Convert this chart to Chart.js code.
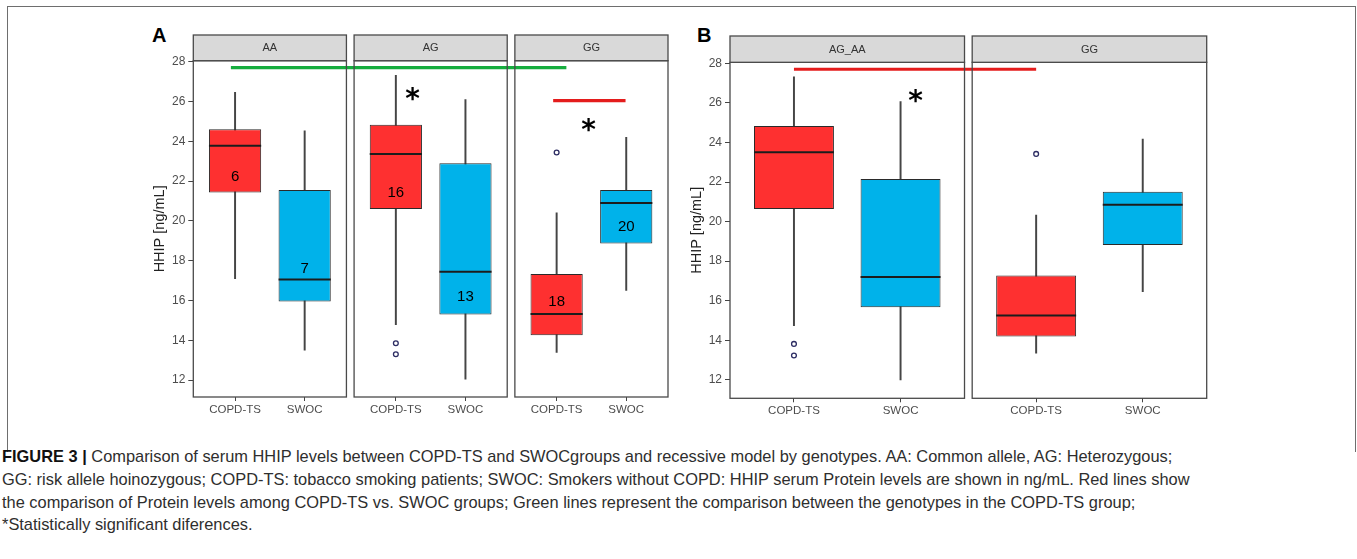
<!DOCTYPE html>
<html><head><meta charset="utf-8">
<script src="https://cdn.jsdelivr.net/npm/chart.js@4/dist/chart.umd.min.js"></script>
<style>
html,body{margin:0;padding:0;background:#fff;}
body{width:1357px;height:559px;overflow:hidden;position:relative;font-family:"Liberation Sans",Arial,sans-serif;}
#frame{position:absolute;left:7px;top:6px;width:1349px;height:446px;border:1.5px solid #6e6e6e;border-bottom:none;box-sizing:border-box;}
.cv{position:absolute;}
.letter{position:absolute;font-weight:bold;font-size:20px;line-height:20px;color:#000;}
.cap{position:absolute;left:2px;font-size:16.4px;line-height:22.7px;color:#2e2e2e;white-space:nowrap;}
.cap b{color:#111;}
</style></head>
<body>
<div id="frame"></div>
<div class="letter" style="left:152px;top:25px">A</div>
<div class="letter" style="left:697px;top:25px">B</div>
<canvas id="cA" class="cv" width="545" height="400" style="left:130px;top:28px"></canvas>
<canvas id="cB" class="cv" width="545" height="400" style="left:670px;top:28px"></canvas>
<div class="cap" style="top:445px"><b>FIGURE 3 |</b> Comparison of serum HHIP levels between COPD-TS and SWOCgroups and recessive model by genotypes. AA: Common allele, AG: Heterozygous;</div>
<div class="cap" style="top:468px">GG: risk allele hoinozygous; COPD-TS: tobacco smoking patients; SWOC: Smokers without COPD: HHIP serum Protein levels are shown in ng/mL. Red lines show</div>
<div class="cap" style="top:491px">the comparison of Protein levels among COPD-TS vs. SWOC groups; Green lines represent the comparison between the genotypes in the COPD-TS group;</div>
<div class="cap" style="top:513px">*Statistically significant diferences.</div>
<script>
// ---------- data ----------
const groups = ['COPD-TS', 'SWOC'];
const yTicks = [12, 14, 16, 18, 20, 22, 24, 26, 28];

// Panel A: facets AA, AG, GG; per facet COPD-TS then SWOC
const facetsA = ['AA', 'AG', 'GG'];
const aLower  = [17.10, 13.50, 14.78, 12.05, 13.39, 16.51];
const aQ1     = [21.43, 15.95, 20.60, 15.29, 14.25, 18.87];
const aMedian = [23.78, 17.05, 23.36, 17.45, 15.32, 20.90];
const aQ3     = [24.60, 21.55, 24.83, 22.90, 17.33, 21.55];
const aUpper  = [26.46, 24.52, 27.31, 26.10, 20.40, 24.20];
const aOutliers = [[], [], [13.85, 13.30], [], [23.44], []];
const aCounts = ['6', '7', '16', '13', '18', '20'];
const aCountY = [22.22, 17.61, 21.41, 16.18, 15.93, 19.70];
// significance marks: [facet, group, shift]
const aStars = [{facet: 1, group: 0, shift: 0.24, y: 26.26}, {facet: 2, group: 0, shift: 0.46, y: 24.67}];
const aLines = [
  {from: [0, 0, -0.06], to: [2, 0, 0.14], y: 27.70, color: '#16ad3e'},
  {from: [2, 0, -0.05], to: [2, 1, -0.01], y: 26.04, color: '#e41c1c'}
];

// Panel B: facets AG_AA, GG
const facetsB = ['AG_AA', 'GG'];
const bLower  = [14.74, 12.00, 13.35, 16.46];
const bQ1     = [20.64, 15.67, 14.19, 18.82];
const bMedian = [23.50, 17.20, 15.25, 20.85];
const bQ3     = [24.83, 22.15, 17.27, 21.51];
const bUpper  = [27.32, 26.06, 20.33, 24.17];
const bOutliers = [[13.82, 13.23], [], [23.42], []];
const bCounts = [];
const bCountY = [];
const bStars = [{facet: 0, group: 1, shift: 0.14, y: 26.20}];
const bLines = [
  {from: [0, 0, 0.0], to: [1, 0, 0.0], y: 27.70, color: '#e41c1c'}
];

const boxColors = ['#fe3030', '#00b2ea'];

function makePanel(id, d, lay) {
  const span = 2.2 + lay.gap;
  const catX = (f, g) => f * span + 1 + g;
  const n = d.facets.length;
  const xs = [], colors = [], ticksLbl = [];
  for (let f = 0; f < n; f++) for (let g = 0; g < 2; g++) {
    xs.push(catX(f, g)); colors.push(boxColors[g]); ticksLbl.push(groups[g]);
  }
  const boxData = xs.map((x, i) => ({x, y: [d.q1[i], d.q3[i]]}));
  const whiskData = xs.map((x, i) => ({x, y: [d.lower[i], d.upper[i]]}));
  const outData = [];
  d.outliers.forEach((arr, i) => arr.forEach(v => outData.push({x: xs[i], y: v})));
  const datasets = [
    {type: 'bar', data: boxData, backgroundColor: colors, borderColor: '#2a2a2a', borderWidth: 1,
     borderSkipped: false, grouped: false, barPercentage: 0.75, categoryPercentage: 1, order: 2},
    {type: 'bar', data: whiskData, backgroundColor: '#454545', barThickness: 1.3, grouped: false, order: 3},
    {type: 'scatter', data: outData, pointRadius: 2.4, pointBackgroundColor: '#fff',
     pointBorderColor: '#2d2d63', pointBorderWidth: 1.3, order: 1}
  ];
  d.lines.forEach(l => datasets.push({
    type: 'line', data: [{x: catX(l.from[0], l.from[1]) + l.from[2], y: l.y}, {x: catX(l.to[0], l.to[1]) + l.to[2], y: l.y}],
    borderColor: l.color, borderWidth: 3.2, pointRadius: 0, order: 0, clip: false
  }));

  const plugin = {
    id: 'facets_' + id,
    afterDatasetsDraw(chart) {
      const {ctx, chartArea: ca, scales: {x, y}} = chart;
      ctx.save();
      // medians
      chart.getDatasetMeta(0).data.forEach((bar, i) => {
        const p = bar.getProps(['x', 'width'], true);
        const yy = y.getPixelForValue(d.median[i]);
        ctx.beginPath(); ctx.moveTo(p.x - p.width / 2, yy); ctx.lineTo(p.x + p.width / 2, yy);
        ctx.lineWidth = 2; ctx.strokeStyle = '#1c1c1c'; ctx.stroke();
      });
      // counts
      ctx.fillStyle = '#000'; ctx.font = '15px "Liberation Sans", Arial, sans-serif';
      ctx.textAlign = 'center'; ctx.textBaseline = 'middle';
      d.counts.forEach((t, i) => ctx.fillText(t, x.getPixelForValue(xs[i]), y.getPixelForValue(d.countY[i])));
      // stars
      ctx.font = 'bold 28px "DejaVu Sans", sans-serif';
      d.stars.forEach(s => ctx.fillText('*', x.getPixelForValue(catX(s.facet, s.group) + s.shift), y.getPixelForValue(s.y) + 4));
      // facet frames & strips
      ctx.lineWidth = 1.3; ctx.strokeStyle = '#4a4a4a';
      for (let f = 0; f < n; f++) {
        const l = x.getPixelForValue(f * span + 0.4), r = x.getPixelForValue(f * span + 2.6);
        ctx.strokeRect(l, ca.top, r - l, ca.bottom - ca.top);
        ctx.fillStyle = '#d9d9d9';
        ctx.fillRect(l, ca.top - lay.strip, r - l, lay.strip);
        ctx.strokeRect(l, ca.top - lay.strip, r - l, lay.strip);
        ctx.fillStyle = '#333'; ctx.font = '11px "Liberation Sans", Arial, sans-serif';
        ctx.fillText(d.facets[f], (l + r) / 2, ca.top - lay.strip / 2 + 0.5);
      }
      ctx.restore();
    }
  };

  return new Chart(document.getElementById(id), {
    data: {datasets},
    plugins: [plugin],
    options: {
      responsive: false, animation: false, devicePixelRatio: 1,
      layout: {padding: {left: lay.padL, top: lay.padT, right: lay.padR, bottom: 0}},
      plugins: {legend: {display: false}, tooltip: {enabled: false}},
      scales: {
        x: {
          type: 'linear', offset: false, min: 0.4, max: (n - 1) * span + 2.6,
          afterBuildTicks: s => { s.ticks = xs.map(v => ({value: v})); },
          afterFit: s => { s.height = lay.xH; },
          ticks: {autoSkip: false, maxRotation: 0, padding: 2, color: '#4d4d4d',
                  font: {size: 11.5, family: '"Liberation Sans", Arial, sans-serif'},
                  callback: (v, i) => ticksLbl[i]},
          grid: {drawOnChartArea: false, drawTicks: true, tickLength: 4, color: '#444', offset: false},
          border: {display: false}
        },
        y: {
          type: 'linear', min: lay.yMin, max: lay.yMax,
          afterBuildTicks: s => { s.ticks = yTicks.map(v => ({value: v})); },
          afterFit: s => { s.width = lay.yW; },
          ticks: {padding: 3, color: '#4d4d4d', font: {size: 12, family: '"Liberation Sans", Arial, sans-serif'}},
          grid: {drawOnChartArea: false, drawTicks: true, tickLength: 5, color: '#444'},
          border: {display: false},
          title: {display: true, text: 'HHIP [ng/mL]', color: '#222', padding: 0,
                  font: {size: 14.5, family: '"Liberation Sans", Arial, sans-serif'}}
        }
      }
    }
  });
}

makePanel('cA', {facets: facetsA, lower: aLower, q1: aQ1, median: aMedian, q3: aQ3, upper: aUpper,
  outliers: aOutliers, counts: aCounts, countY: aCountY, stars: aStars, lines: aLines},
  {gap: 0.11, padL: 21.3, padT: 32.7, padR: 7, xH: 31, yW: 42, yMin: 11.15, yMax: 28.05, strip: 25.7});
makePanel('cB', {facets: facetsB, lower: bLower, q1: bQ1, median: bMedian, q3: bQ3, upper: bUpper,
  outliers: bOutliers, counts: bCounts, countY: bCountY, stars: bStars, lines: bLines},
  {gap: 0.072, padL: 18.3, padT: 34.3, padR: 8.3, xH: 29.7, yW: 41.7, yMin: 11.07, yMax: 28.05, strip: 26.3});
</script>
</body></html>
